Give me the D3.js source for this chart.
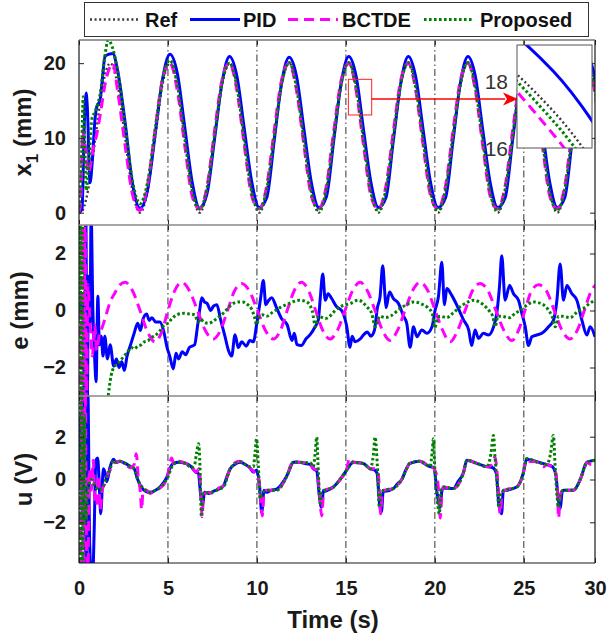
<!DOCTYPE html>
<html><head><meta charset="utf-8">
<script src="https://cdn.jsdelivr.net/npm/d3@7"></script>
<style>body{margin:0;background:#fff}</style>
</head><body>
<svg id="c" width="608" height="634"></svg>
<script>
// ---------------- DATA ----------------
const seriesNames = ["Ref", "PID", "BCTDE", "Proposed"];
const xTickValues = [0, 5, 10, 15, 20, 25, 29];
const xTickLabels = ["0", "5", "10", "15", "20", "25", "30"];
const gridTimes = [5, 10, 15, 20, 25];
const x1Ticks = [0, 10, 20];
const eTicks = [-2, 0, 2];
const uTicks = [-2, 0, 2];
const insetTicks = [16, 18];

// x1 panel: early transients (t, mm)
const refEarly = [[0,0],[0.08,0],[0.5,2.9],[0.92,10],[1.34,17.1],[1.76,20]];
const pidEarly = [[0,0],[0.17,0.5],[0.3,12],[0.4,16],[0.47,14],[0.62,4],[0.75,7],[0.9,12.5],[1.0,14.2],[1.18,15],[1.3,17.5],[1.46,20.9],[1.7,21.2],[1.9,21.3]];
const bctdeEarly = [[0,0],[0.1,1.5],[0.2,11],[0.3,9.8],[0.4,8],[0.5,5.3],[0.62,6],[0.8,8.5],[1.0,10.5],[1.2,13.2],[1.45,17],[1.74,19.5],[1.9,20]];
const propEarly = [[0,0],[0.12,5],[0.24,15.5],[0.32,10],[0.4,3],[0.55,6.5],[0.72,12.5],[0.9,13.5],[1.05,14.5],[1.2,16],[1.4,20],[1.65,23.1],[1.85,22.3]];

// x1 panel: periodic part, shared sample times (s)
const tTop = [2.17,2.59,3.01,3.43,3.85,4.27,4.69,5.11,
  5.52,5.94,6.36,6.78,7.20,7.62,8.04,8.46,
  8.87,9.29,9.71,10.13,10.55,10.97,11.39,11.81,
  12.22,12.64,13.06,13.48,13.90,14.32,14.74,15.16,
  15.57,15.99,16.41,16.83,17.25,17.67,18.09,18.51,
  18.92,19.34,19.76,20.18,20.60,21.02,21.44,21.86,
  22.27,22.69,23.11,23.53,23.95,24.37,24.79,25.21,
  25.62,26.04,26.46,26.88,27.30,27.72,28.14,28.56,
  28.97,29.39];
const refTop = [17.1,10,2.9,0,2.9,10,17.1,20,
  17.1,10,2.9,0,2.9,10,17.1,20,
  17.1,10,2.9,0,2.9,10,17.1,20,
  17.1,10,2.9,0,2.9,10,17.1,20,
  17.1,10,2.9,0,2.9,10,17.1,20,
  17.1,10,2.9,0,2.9,10,17.1,20,
  17.1,10,2.9,0,2.9,10,17.1,20,
  17.1,10,2.9,0,2.9,10,17.1,20,
  17.1,10];
const pidTop = [19.0,12.1,3.8,0.6,3.0,10.3,17.8,21.2,
  18.7,11.5,4.1,0.6,2.6,9.9,17.4,20.9,
  18.3,11.2,4.1,0.7,2.0,9.6,17.4,20.8,
  18.3,11.2,4.0,0.7,2.1,9.7,17.4,20.9,
  18.3,11.1,4.0,0.7,2.0,9.7,17.4,20.9,
  18.2,11.1,4.0,0.7,2.0,9.6,17.4,20.9,
  18.3,11.1,4.0,0.7,2.0,9.7,17.4,20.9,
  18.3,11.1,4.0,0.7,2.0,9.7,17.4,20.8,
  18.3,11.1];
const bctdeTop = [16.3,9.0,2.4,0.3,3.7,11.0,17.8,20.0,
  16.4,9.0,2.2,0.5,3.6,11.0,17.8,20.0,
  16.4,9.0,2.2,0.5,3.6,11.0,17.8,20.0,
  16.4,9.0,2.2,0.5,3.6,11.0,17.8,20.0,
  16.4,9.0,2.2,0.5,3.6,11.0,17.8,20.0,
  16.4,9.0,2.2,0.5,3.6,11.0,17.8,20.0,
  16.4,9.0,2.2,0.5,3.6,11.0,17.8,20.0,
  16.4,9.0,2.2,0.5,3.6,11.0,17.8,20.0,
  16.4,9.0];
const propTop = [19.0,11.6,4.2,1.2,4.0,10.9,17.7,20.4,
  17.3,10.1,3.0,0.5,3.3,10.4,17.3,20.0,
  16.9,9.7,2.7,0.4,3.1,10.2,17.2,20.1,
  16.8,9.7,2.7,0.3,3.1,10.2,17.3,20.1,
  16.8,9.7,2.7,0.3,3.1,10.2,17.3,20.1,
  16.8,9.7,2.7,0.3,3.1,10.2,17.3,20.1,
  16.8,9.7,2.7,0.3,3.1,10.2,17.3,20.1,
  16.8,9.7,2.7,0.3,3.1,10.2,17.3,20.1,
  16.8,9.7];

// e panel (t, mm)
const pidE = [[0,0],[0.22,0.3],[0.3,-3.5],[0.38,3.5],[0.46,-3.5],[0.54,1.2],[0.62,-0.5],[0.68,3.4],[0.78,0],[0.87,-1.5],[0.96,-2.5],[1.06,0.5],[1.15,-1.2],[1.25,-0.9],[1.35,-1.6],[1.45,-0.9],[1.6,-1.7],[1.75,-1.2],[1.95,-1.95],[2.1,-1.7],[2.25,-2.0],[2.4,-1.8],[2.55,-2.1],[2.7,-1.6],[2.9,-1.2],[3.1,-0.8],[3.3,-0.45],[3.45,-0.7],[3.6,-0.3],[3.8,-0.12],[3.95,-0.35],[4.1,-0.25],[4.3,-0.4],[4.55,-0.4],[4.75,-0.7],[4.95,-1.3],[5.1,-1.6],[5.3,-2.05],[5.45,-1.5],[5.6,-1.7],[5.8,-1.45],[6.0,-1.55],[6.2,-1.3],[6.5,-1.2],[6.65,-0.6],[6.8,0.1],[6.9,0.45],[7.05,0.3],[7.2,0.25],[7.4,0.0],[7.55,0.15],[7.75,0.2],[7.95,-0.3],[8.2,-0.9],[8.4,-1.4],[8.58,-1.6],[8.77,-0.85],[8.95,-1.3],[9.15,-1.1],[9.4,-1.25],[9.6,-1.05],[9.8,-1.1],[9.98,-0.5],[10.2,0.4],[10.36,1.05],[10.5,0.2],[10.65,0.35],[10.83,0.45],[11.1,0.1],[11.4,-0.3],[11.7,-0.5],[11.97,-1.05],[12.1,-0.8],[12.25,-1.2],[12.5,-1.23],[12.75,-1.0],[13.0,-0.84],[13.27,-0.57],[13.45,-0.33],[13.55,0.36],[13.7,1.28],[13.84,0.36],[14.0,0.59],[14.2,0.42],[14.48,0.13],[14.76,0.0],[15.05,-0.57],[15.23,-1.29],[15.35,-0.9],[15.52,-1.1],[15.8,-1.0],[16.0,-0.85],[16.2,-0.75],[16.4,-0.9],[16.6,-0.7],[16.77,0.1],[16.92,0.48],[17.07,1.57],[17.2,0.5],[17.26,0.1],[17.45,0.65],[17.67,0.42],[17.95,0.25],[18.24,-0.2],[18.42,-0.45],[18.61,-1.29],[18.8,-0.57],[18.99,-0.92],[19.27,-0.68],[19.55,-0.8],[19.84,-0.57],[20.01,0.0],[20.2,0.48],[20.39,1.69],[20.54,0.2],[20.67,0.77],[20.95,0.53],[21.24,0.18],[21.61,-0.33],[21.9,-0.68],[22.07,-1.23],[22.26,-0.68],[22.45,-0.98],[22.73,-0.8],[23.01,-0.86],[23.3,-0.57],[23.48,-0.1],[23.63,0.83],[23.76,1.92],[23.95,0.36],[24.2,0.88],[24.42,0.59],[24.7,0.36],[24.89,-0.1],[25.08,-0.57],[25.26,-1.23],[25.45,-0.92],[25.73,-0.86],[26.01,-0.8],[26.39,-0.57],[26.67,-0.33],[26.86,0.36],[27.04,1.63],[27.23,0.36],[27.42,0.88],[27.7,0.59],[27.98,0.36],[28.26,-0.33],[28.54,-0.86],[28.73,-0.57],[29.0,-0.92]];
const bctdeE = [[0,0],[0.1,-3.5],[0.18,3.5],[0.26,-3.5],[0.34,3.5],[0.42,-3.4],[0.5,0.9],[0.62,-0.4],[0.75,-1.6],[0.88,-0.5],[1.0,-1.4],[1.15,-0.8],[1.3,-0.6],[1.5,-0.2],[1.75,0.3],[2.0,0.6],[2.3,0.9],[2.59,0.99],[3.0,0.7],[3.43,0.0],[3.85,-0.75],[4.27,-1.1],[4.65,-0.75],[5.0,0.0],[5.38,0.7],[5.77,0.99],[6.2,0.7],[6.66,0.0],[7.1,-0.7],[7.55,-1.0],[7.95,-0.7],[8.35,0.0],[8.75,0.7],[9.14,0.95],[9.56,0.7],[10.03,0.0],[10.48,-0.7],[10.92,-1.0],[11.32,-0.7],[11.7,0.0],[12.1,0.7],[12.5,0.99],[12.9,0.7],[13.3,0.0],[13.7,-0.7],[14.1,-1.0],[14.52,-0.7],[14.95,0.0],[15.38,0.7],[15.8,0.99],[16.2,0.7],[16.64,0.0],[17.06,-0.7],[17.48,-1.05],[17.9,-0.7],[18.32,0.0],[18.75,0.7],[19.17,0.99],[19.6,0.7],[20.02,0.0],[20.44,-0.7],[20.86,-1.1],[21.28,-0.7],[21.7,0.0],[22.12,0.7],[22.54,0.95],[22.98,0.7],[23.43,0.0],[23.88,-0.7],[24.32,-1.05],[24.7,-0.7],[25.06,0.0],[25.44,0.7],[25.82,0.9],[26.26,0.7],[26.71,0.0],[27.15,-0.7],[27.6,-1.0],[28.0,-0.7],[28.4,0.0],[28.8,0.7],[29.15,0.95]];
const propE = [[0,0],[0.06,3.5],[0.12,-3.5],[0.18,3.5],[0.24,-3.5],[0.32,-5],[1.0,-6],[1.5,-3.8],[1.65,-2.95],[1.8,-2.3],[1.95,-2.0],[2.2,-1.85],[2.4,-1.7],[2.6,-1.55],[2.8,-1.4],[2.94,-1.3],[3.1,-1.35],[3.3,-1.25],[3.5,-1.2],[3.68,-1.1],[3.9,-1.05],[4.05,-0.95],[4.25,-0.9],[4.5,-0.75],[4.82,-0.5],[5.0,-0.45],[5.2,-0.3],[5.5,-0.15],[5.9,-0.1],[6.2,-0.12],[6.5,-0.15],[6.7,-0.4],[6.85,-0.3],[7.0,-0.4],[7.3,-0.45],[7.55,-0.37],[7.8,-0.25],[8.1,-0.1],[8.4,0.1],[8.68,0.25],[9.0,0.3],[9.2,0.3],[9.45,0.22],[9.7,0.05],[9.85,-0.2],[9.98,-0.5],[10.1,-0.25],[10.3,-0.15],[10.55,-0.2],[10.9,-0.05],[11.3,0.1],[11.7,0.22],[12.0,0.3],[12.4,0.36],[12.8,0.3],[13.1,0.0],[13.3,-0.57],[13.45,-0.2],[13.55,-0.22],[13.84,-0.28],[14.1,-0.2],[14.4,0.0],[14.67,0.13],[15.0,0.2],[15.23,0.24],[15.7,0.36],[16.18,0.13],[16.45,-0.1],[16.65,-0.57],[16.9,-0.2],[17.2,-0.25],[17.5,-0.2],[18.05,0.07],[18.4,0.2],[18.8,0.3],[19.35,0.2],[19.6,0.1],[19.85,-0.1],[20.0,-0.6],[20.15,-0.25],[20.3,-0.2],[20.67,-0.25],[21.0,-0.1],[21.42,0.13],[21.8,0.28],[22.17,0.36],[22.73,0.2],[23.1,-0.05],[23.25,-0.2],[23.39,-0.57],[23.55,-0.2],[23.67,-0.2],[24.23,-0.25],[24.5,-0.1],[24.8,0.0],[25.2,0.2],[25.54,0.3],[26.1,0.2],[26.4,0.0],[26.58,-0.2],[26.77,-0.57],[26.95,-0.2],[27.14,-0.2],[27.6,-0.25],[28.0,-0.05],[28.35,0.07],[28.7,0.25],[29.0,0.36]];

// u panel (t, V)
const pidU = [[0,0],[0.1,3],[0.2,-2],[0.3,5],[0.4,-5],[0.5,4],[0.6,-3],[0.75,-5],[0.85,-2.5],[0.95,0.9],[1.05,1.0],[1.15,-0.5],[1.22,-1.6],[1.37,0.5],[1.5,0.2],[1.56,-0.1],[1.75,0.6],[1.93,0.95],[2.1,0.8],[2.3,0.85],[2.6,0.75],[2.9,0.6],[3.1,0.5],[3.3,0.0],[3.5,-0.35],[3.75,-0.55],[4.0,-0.6],[4.3,-0.5],[4.55,-0.35],[4.75,-0.15],[4.93,0.1],[5.1,0.5],[5.3,0.75],[5.6,0.8],[6.0,0.75],[6.3,0.6],[6.55,0.35],[6.7,0.3],[6.85,-0.8],[6.95,-1.2],[7.05,-0.6],[7.3,-0.65],[7.55,-0.55],[7.85,-0.45],[8.12,-0.3],[8.3,0.1],[8.5,0.5],[8.75,0.7],[9.05,0.8],[9.35,0.7],[9.6,0.55],[9.8,0.35],[9.98,0.43],[10.15,-0.3],[10.27,-1.55],[10.4,-0.5],[10.55,-0.6],[10.8,-0.5],[11.1,-0.45],[11.4,-0.2],[11.67,0.15],[11.85,0.5],[12.04,0.8],[12.4,0.8],[12.7,0.75],[13.0,0.7],[13.17,0.5],[13.36,0.4],[13.5,-0.7],[13.62,-1.3],[13.75,-0.5],[13.83,-0.55],[14.1,-0.45],[14.3,-0.35],[14.67,0.0],[15.05,0.45],[15.25,0.7],[15.42,0.8],[15.98,0.75],[16.36,0.5],[16.6,0.45],[16.75,0.3],[16.9,-1.2],[17.0,-1.5],[17.1,-0.5],[17.2,-0.55],[17.67,-0.42],[17.9,-0.2],[18.14,0.0],[18.4,0.5],[18.6,0.75],[19.17,0.85],[19.5,0.7],[19.73,0.6],[19.95,0.55],[20.15,-0.8],[20.3,-1.3],[20.4,-0.5],[20.48,-0.4],[21.04,-0.42],[21.3,-0.1],[21.6,0.3],[21.8,0.9],[22.36,0.75],[22.92,0.6],[23.25,0.55],[23.45,0.3],[23.6,-1.2],[23.75,-1.6],[23.85,-0.5],[23.95,-0.5],[24.6,-0.35],[24.97,0.3],[25.16,0.95],[25.72,0.83],[26.28,0.7],[26.6,0.6],[26.8,0.2],[26.95,-1.0],[27.05,-1.35],[27.15,-0.6],[27.23,-0.5],[27.79,-0.5],[28.17,0.0],[28.54,0.8],[29.0,0.9]];
const bctdeU = [[0,0],[0.08,-4],[0.15,4],[0.25,-4],[0.35,4.5],[0.42,-3],[0.5,-4.5],[0.58,0.5],[0.7,-0.5],[0.8,0.9],[0.9,-1.0],[1.0,-1.2],[1.1,0.2],[1.2,-1.4],[1.3,-0.5],[1.45,-0.2],[1.6,0.2],[1.8,0.5],[2.0,0.8],[2.3,0.85],[2.6,0.7],[2.9,0.55],[3.1,0.7],[3.22,1.2],[3.32,0.2],[3.45,-0.6],[3.52,-1.4],[3.6,-0.5],[3.8,-0.5],[4.0,-0.65],[4.3,-0.5],[4.55,-0.4],[4.93,0.0],[5.1,0.7],[5.2,1.0],[5.35,0.7],[5.6,0.85],[6.0,0.75],[6.3,0.6],[6.6,0.35],[6.75,0.5],[6.85,-0.6],[6.92,-1.74],[7.0,-0.7],[7.3,-0.6],[7.55,-0.65],[7.85,-0.4],[8.12,-0.3],[8.5,0.5],[8.8,0.8],[9.05,0.85],[9.35,0.7],[9.6,0.55],[9.85,0.35],[10.05,0.2],[10.2,-0.8],[10.3,-1.7],[10.4,-0.6],[10.55,-0.5],[11.1,-0.5],[11.67,0.13],[12.04,0.85],[12.4,0.8],[13.0,0.75],[13.17,0.5],[13.36,0.45],[13.5,-0.5],[13.64,-1.7],[13.75,-0.6],[13.83,-0.5],[14.3,-0.35],[14.67,0.0],[15.05,0.5],[15.2,1.0],[15.42,0.8],[15.98,0.75],[16.36,0.5],[16.6,0.5],[16.8,0.4],[16.9,-0.8],[16.95,-1.6],[17.05,-0.6],[17.2,-0.5],[17.67,-0.42],[18.14,0.0],[18.6,0.75],[19.17,0.85],[19.73,0.6],[19.9,0.55],[20.1,0.2],[20.25,-1.0],[20.3,-1.8],[20.4,-0.6],[20.48,-0.35],[21.04,-0.42],[21.6,0.3],[21.8,0.9],[22.36,0.75],[22.92,0.6],[23.2,0.7],[23.38,1.05],[23.5,0.3],[23.6,-0.8],[23.66,-1.6],[23.8,-0.6],[23.95,-0.5],[24.6,-0.35],[24.97,0.3],[25.1,0.9],[25.3,0.85],[25.72,0.83],[26.1,0.6],[26.28,0.7],[26.6,0.55],[26.8,0.3],[26.9,-0.8],[26.95,-1.8],[27.05,-0.7],[27.23,-0.5],[27.79,-0.5],[28.17,0.0],[28.4,0.5],[28.54,0.8],[28.8,0.7],[29.0,0.9]];
const propU = [[0,0],[0.05,4.5],[0.1,-4.5],[0.15,4.5],[0.2,-4.5],[0.3,3],[0.38,-2],[0.5,-0.5],[0.7,0],[0.9,-0.3],[1.1,-0.5],[1.3,-0.4],[1.5,0],[1.75,0.5],[1.93,0.9],[2.1,0.8],[2.3,0.85],[2.6,0.75],[2.9,0.6],[3.1,0.5],[3.3,0.0],[3.5,-0.3],[3.75,-0.5],[4.0,-0.6],[4.3,-0.5],[4.55,-0.35],[4.93,0.0],[5.3,0.7],[5.6,0.8],[6.0,0.75],[6.3,0.55],[6.5,0.7],[6.6,1.2],[6.72,1.67],[6.8,0.6],[6.88,-1.74],[6.98,-0.66],[7.3,-0.6],[7.55,-0.58],[7.85,-0.45],[8.12,-0.35],[8.5,0.5],[9.05,0.83],[9.35,0.7],[9.6,0.6],[9.8,0.6],[9.9,1.3],[9.98,1.9],[10.08,0.6],[10.18,-0.9],[10.27,-0.7],[10.55,-0.5],[11.1,-0.5],[11.67,0.13],[12.04,0.8],[12.4,0.8],[13.0,0.78],[13.17,0.6],[13.28,1.3],[13.36,1.98],[13.45,0.35],[13.55,-1.12],[13.65,-0.6],[13.83,-0.5],[14.3,-0.35],[14.67,0.0],[15.05,0.45],[15.42,0.8],[15.98,0.75],[16.36,0.5],[16.55,1.2],[16.64,1.98],[16.77,0.6],[16.88,-1.3],[16.98,-0.6],[17.2,-0.5],[17.67,-0.42],[18.14,0.0],[18.6,0.75],[19.17,0.85],[19.73,0.6],[19.85,1.3],[19.92,1.9],[20.0,0.43],[20.1,-0.6],[20.25,-1.6],[20.35,-0.5],[20.48,-0.35],[21.04,-0.42],[21.6,0.3],[21.8,0.9],[22.36,0.75],[22.92,0.6],[23.15,1.2],[23.29,2.06],[23.38,1.05],[23.5,-0.2],[23.6,-1.3],[23.72,-0.6],[23.95,-0.5],[24.6,-0.35],[24.97,0.3],[25.16,0.98],[25.72,0.83],[26.28,0.7],[26.5,1.2],[26.66,2.06],[26.76,0.6],[26.85,-0.6],[26.95,-1.3],[27.1,-0.6],[27.23,-0.5],[27.79,-0.5],[28.17,0.0],[28.54,0.8],[29.0,0.9]];

// zoom annotation (data coordinates of the top panel)
const zoomBox = {t0: 15.14, t1: 16.45, v0: 13.07, v1: 17.84, arrowV: 15.21};
const insetDomainT = [15.47, 15.675];
const insetDomainV = [16, 19.1];

// ---------------- RENDER ----------------
const FONT = "'Liberation Sans', Arial, Helvetica, sans-serif";
const svg = d3.select("#c");
const W = 608, H = 634;
svg.append("rect").attr("width", W).attr("height", H).attr("fill", "#fff");

const LEFT = 79, RIGHT = 595;
const x = d3.scaleLinear().domain([0, 29]).range([LEFT, RIGHT]);

const styles = {
  Ref:      {color: "#3a3a3a", width: 2.4, dash: "2,2.6"},
  PID:      {color: "#0000ff", width: 3,   dash: null},
  BCTDE:    {color: "#ff00ff", width: 3,   dash: "10,6"},
  Proposed: {color: "#008000", width: 3,   dash: "2.6,2.4"}
};

const zip = (ts, vs) => ts.map((t, i) => [t, vs[i]]);
const topSeries = {
  Ref: refEarly.concat(zip(tTop, refTop)),
  PID: pidEarly.concat(zip(tTop, pidTop)),
  BCTDE: bctdeEarly.concat(zip(tTop, bctdeTop)),
  Proposed: propEarly.concat(zip(tTop, propTop))
};

const panels = [
  {id: "p1", top: 40, bottom: 225, domain: [-1.65, 23.1], ticks: x1Ticks, series: topSeries, label: "x1", lx: 31},
  {id: "p2", top: 225, bottom: 396, domain: [-3, 3], ticks: eTicks, series: {PID: pidE, BCTDE: bctdeE, Proposed: propE}, label: "e (mm)", lx: 28},
  {id: "p3", top: 396, bottom: 563, domain: [-3.9, 3.9], ticks: uTicks, series: {PID: pidU, BCTDE: bctdeU, Proposed: propU}, label: "u (V)", lx: 32}
];

const defs = svg.append("defs");

function drawLines(g, series, xs, ys) {
  const line = d3.line().x(d => xs(d[0])).y(d => ys(d[1])).curve(d3.curveMonotoneX);
  seriesNames.forEach(name => {
    if (!series[name]) return;
    const s = styles[name];
    g.append("path").datum(series[name])
      .attr("d", line)
      .attr("fill", "none")
      .attr("stroke", s.color)
      .attr("stroke-width", s.width)
      .attr("stroke-dasharray", s.dash)
      .attr("stroke-linejoin", "round");
  });
}

panels.forEach(p => {
  const y = d3.scaleLinear().domain(p.domain).range([p.bottom, p.top]);
  p.y = y;
  defs.append("clipPath").attr("id", "clip-" + p.id)
    .append("rect").attr("x", LEFT).attr("y", p.top).attr("width", RIGHT - LEFT).attr("height", p.bottom - p.top);

  const g = svg.append("g");
  // dash-dot vertical grid
  g.selectAll("line.grid").data(gridTimes).join("line")
    .attr("x1", d => x(d)).attr("x2", d => x(d))
    .attr("y1", p.top).attr("y2", p.bottom)
    .attr("stroke", "#333").attr("stroke-width", 1)
    .attr("stroke-dasharray", "7,3,1.5,3");

  const lg = g.append("g").attr("clip-path", `url(#clip-${p.id})`);
  drawLines(lg, p.series, x, y);

  // y axes (inward ticks)
  const ax = svg.append("g").attr("transform", `translate(${LEFT},0)`)
    .call(d3.axisLeft(y).tickValues(p.ticks).tickSize(-5).tickPadding(13).tickFormat(d3.format("d")));
  ax.select(".domain").remove();
  ax.selectAll("text").attr("font-size", 20).attr("font-weight", "bold").attr("font-family", FONT).attr("fill", "#1a1a1a");
  ax.selectAll("line").attr("stroke", "#222");
  const axR = svg.append("g").attr("transform", `translate(${RIGHT},0)`)
    .call(d3.axisRight(y).tickValues(p.ticks).tickSize(-5).tickFormat(""));
  axR.select(".domain").remove();
  axR.selectAll("line").attr("stroke", "#222");
  // x ticks top & bottom (inward)
  [["axisTop", p.top], ["axisBottom", p.bottom]].forEach(([fn, yy]) => {
    const a = svg.append("g").attr("transform", `translate(0,${yy})`)
      .call(d3[fn](x).tickValues(xTickValues).tickSize(-5).tickFormat(""));
    a.select(".domain").remove();
    a.selectAll("line").attr("stroke", "#222");
  });

  // y label
  const cy = (p.top + p.bottom) / 2;
  const t = svg.append("text")
    .attr("transform", `translate(${p.lx},${cy}) rotate(-90)`)
    .attr("text-anchor", "middle")
    .attr("font-family", FONT).attr("font-weight", "bold").attr("font-size", 24)
    .attr("fill", "#1a1a1a");
  if (p.label === "x1") {
    t.append("tspan").text("x");
    t.append("tspan").text("1").attr("font-size", 17).attr("dy", 7);
    t.append("tspan").text(" (mm)").attr("dy", -7);
  } else {
    t.text(p.label);
  }
});

// frames
const frame = svg.append("g").attr("fill", "none");
frame.append("line").attr("x1", LEFT).attr("x2", LEFT).attr("y1", 40).attr("y2", 563).attr("stroke", "#1a1a1a").attr("stroke-width", 1.2);
frame.append("line").attr("x1", RIGHT).attr("x2", RIGHT).attr("y1", 40).attr("y2", 563).attr("stroke", "#1a1a1a").attr("stroke-width", 1.2);
[[40, "#777"], [225, "#888"], [396, "#888"], [563, "#1a1a1a"]].forEach(([yy, c]) => {
  frame.append("line").attr("x1", LEFT).attr("x2", RIGHT).attr("y1", yy).attr("y2", yy).attr("stroke", c).attr("stroke-width", yy === 563 ? 1.2 : 1.5);
});

// x axis labels
const xa = svg.append("g").attr("transform", "translate(0,563)")
  .call(d3.axisBottom(x).tickValues(xTickValues).tickSize(0).tickPadding(18).tickFormat((d, i) => xTickLabels[i]));
xa.select(".domain").remove();
xa.selectAll("text").attr("font-size", 20).attr("font-weight", "bold").attr("font-family", FONT).attr("fill", "#1a1a1a");

svg.append("text").attr("x", 333).attr("y", 628).attr("text-anchor", "middle")
  .attr("font-family", FONT).attr("font-weight", "bold").attr("font-size", 24).attr("fill", "#1a1a1a")
  .text("Time (s)");

// zoom annotation on top panel
const yTop = panels[0].y;
svg.append("rect")
  .attr("x", x(zoomBox.t0)).attr("y", yTop(zoomBox.v1))
  .attr("width", x(zoomBox.t1) - x(zoomBox.t0)).attr("height", yTop(zoomBox.v0) - yTop(zoomBox.v1))
  .attr("fill", "none").attr("stroke", "#ff2020").attr("stroke-width", 1);

// inset
const ix = d3.scaleLinear().domain(insetDomainT).range([517, 592]);
const iy = d3.scaleLinear().domain(insetDomainV).range([148, 45]);
defs.append("clipPath").attr("id", "clip-inset").append("rect")
  .attr("x", 517).attr("y", 45).attr("width", 75).attr("height", 103);
svg.append("rect").attr("x", 517).attr("y", 45).attr("width", 75).attr("height", 103).attr("fill", "#fff");
const ig = svg.append("g").attr("clip-path", "url(#clip-inset)");
drawLines(ig, topSeries, ix, iy);
svg.append("rect").attr("x", 517).attr("y", 45).attr("width", 75).attr("height", 103)
  .attr("fill", "none").attr("stroke", "#555").attr("stroke-width", 1);
svg.selectAll("text.inset").data(insetTicks).join("text")
  .attr("x", 508).attr("y", d => iy(d)).attr("dy", "0.36em").attr("text-anchor", "end")
  .attr("font-family", FONT).attr("font-size", 21).attr("fill", "#333")
  .text(d => d);

// arrow
const ay = yTop(zoomBox.arrowV);
svg.append("line").attr("x1", x(zoomBox.t1)).attr("x2", 505).attr("y1", ay).attr("y2", ay)
  .attr("stroke", "#ff0000").attr("stroke-width", 1.3);
svg.append("path").attr("d", `M518,${ay} L503,${ay - 6.5} L507,${ay} L503,${ay + 6.5} Z`).attr("fill", "#ff0000");

// legend
const leg = svg.append("g");
leg.append("rect").attr("x", 84.5).attr("y", 2.5).attr("width", 504).attr("height", 34)
  .attr("fill", "#fff").attr("stroke", "#333").attr("stroke-width", 1);
const legPos = [
  {name: "Ref", x0: 90, tx: 145},
  {name: "PID", x0: 190, tx: 243},
  {name: "BCTDE", x0: 288, tx: 342},
  {name: "Proposed", x0: 424, tx: 480}
];
legPos.forEach(d => {
  const s = styles[d.name];
  leg.append("line").attr("x1", d.x0).attr("x2", d.x0 + 50).attr("y1", 19.5).attr("y2", 19.5)
    .attr("stroke", s.color).attr("stroke-width", s.width).attr("stroke-dasharray", s.dash);
  leg.append("text").attr("x", d.tx).attr("y", 26.5)
    .attr("font-family", FONT).attr("font-weight", "bold").attr("font-size", 20).attr("fill", "#111")
    .text(d.name);
});
</script>
</body></html>
